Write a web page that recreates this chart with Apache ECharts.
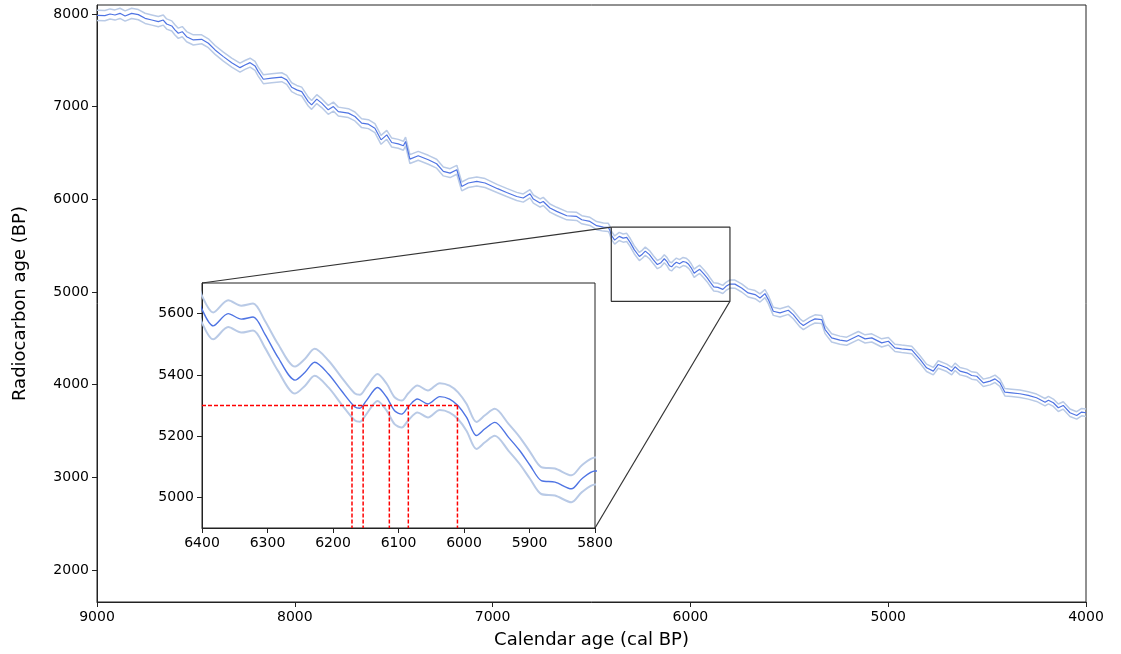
<!DOCTYPE html>
<html>
<head>
<meta charset="utf-8">
<script src="https://cdn.jsdelivr.net/npm/echarts@6/dist/echarts.min.js"></script>
<style>html,body{margin:0;padding:0;background:#fff}#c{width:1121px;height:654px}</style>
</head>
<body>
<div id="c"></div>
<script>
// Calendar ages (cal BP) and radiocarbon ages (BP) of the calibration curve mean
const calAge = [9000,8993,8960,8934,8909,8884,8858,8825,8791,8757,8723,8690,8665,8648,8622,8606,8589,8569,8547,8513,8471,8437,8403,8361,8319,8277,8252,8226,8201,8185,8159,8117,8066,8041,8016,7990,7965,7932,7915,7889,7864,7831,7805,7780,7729,7696,7662,7628,7595,7564,7535,7510,7477,7451,7440,7418,7376,7325,7283,7249,7215,7181,7156,7123,7080,7038,6975,6929,6878,6845,6811,6794,6760,6744,6710,6676,6625,6575,6549,6508,6474,6440,6415,6408,
6400,6383,6360,6340,6322,6304,6284,6258,6243,6228,6207,6187,6167,6159,6149,6132,6118,6106,6095,6085,6071,6055,6037,6022,6009,5996,5981,5968,5953,5932,5915,5899,5882,5861,5836,5820,5800,
5775,5741,5708,5673,5648,5623,5606,5581,5547,5505,5480,5446,5429,5395,5370,5336,5319,5286,5244,5210,5151,5117,5083,5033,4999,4966,4932,4881,4839,4806,4772,4747,4704,4679,4662,4637,4603,4578,4552,4519,4485,4460,4435,4410,4376,4334,4292,4250,4207,4190,4165,4140,4115,4081,4047,4022,4000];
const c14Age = [7985,7989,7982,8000,7989,8007,7978,8007,7993,7953,7935,7917,7935,7892,7871,7828,7792,7809,7755,7720,7727,7684,7612,7540,7475,7421,7450,7475,7440,7378,7296,7307,7318,7289,7210,7181,7163,7055,7019,7081,7038,6966,7001,6947,6930,6894,6822,6811,6768,6642,6696,6613,6599,6578,6624,6434,6470,6427,6384,6301,6283,6319,6139,6176,6193,6176,6115,6074,6031,6014,6060,6003,5960,5977,5906,5870,5823,5816,5780,5762,5716,5701,5697,5670,
5614,5560,5600,5582,5589,5533,5457,5383,5408,5441,5403,5348,5296,5291,5316,5359,5327,5283,5272,5296,5321,5305,5329,5321,5299,5261,5202,5224,5245,5196,5153,5104,5055,5050,5028,5061,5086,
5085,5044,4990,4972,4936,4983,4918,4792,4775,4803,4756,4667,4638,4684,4710,4703,4595,4505,4480,4469,4530,4494,4505,4451,4469,4397,4387,4375,4272,4182,4146,4218,4182,4146,4193,4146,4128,4099,4091,4020,4038,4063,4020,3919,3912,3902,3884,3859,3811,3833,3805,3751,3776,3697,3668,3704,3697];
// Half-width of the uncertainty band (step table: [from cal age downward, half-width])
const bandSteps = [[9000,55],[8500,48],[7000,44],[5000,40]];
// Axis ticks
const mainYTicks = [2000,3000,4000,5000,6000,7000,8000];
const insetYTicks = [5000,5200,5400,5600];
// Zoom window
const zoomX = [6400, 5800];
const zoomY = [4900, 5700];
// Measured radiocarbon age and its calendar intercepts
const measuredC14 = 5300;
const intercepts = [6171, 6154, 6114, 6085, 6010];

function halfWidth(t){
  let w = bandSteps[0][1];
  for (const s of bandSteps) { if (t <= s[0]) w = s[1]; }
  return w;
}
const meanData = calAge.map((t,i)=>[t, c14Age[i]]);
const upperData = calAge.map((t,i)=>[t, c14Age[i] + halfWidth(t)]);
const lowerData = calAge.map((t,i)=>[t, c14Age[i] - halfWidth(t)]);

const FONT = 'DejaVu Sans';
const txt = {color:'#000', fontFamily: FONT, fontSize: 14};
const nameTxt = {color:'#000', fontFamily: FONT, fontSize: 18};
const meanColor = '#4f74e3';
const bandColor = '#b9cae6';
const plain = v => String(v);

const chart = echarts.init(document.getElementById('c'), null, {renderer:'canvas'});

const redStyle = {color:'#ff0000', type:[4,2], width:1.5};
const redSegments = [[[zoomX[0], measuredC14],[intercepts[intercepts.length-1], measuredC14]]]
  .concat(intercepts.map(x=>[[x, measuredC14],[x, zoomY[0]]]));
const redSeries = redSegments.map(seg=>({
  type:'line', xAxisIndex:1, yAxisIndex:1, data:seg, showSymbol:false, silent:true, z:9,
  lineStyle:redStyle, itemStyle:{color:'#ff0000'}
}));

const option = {
  backgroundColor:'#fff',
  animation:false,
  grid:[
    {left:97, right:35, top:5, bottom:51, show:true, borderColor:'#222', borderWidth:1, backgroundColor:'#fff', z:0},
    {left:202, top:283, width:393, height:245, show:true, borderColor:'#222', borderWidth:1, backgroundColor:'#fff', z:5}
  ],
  xAxis:[
    {gridIndex:0, type:'value', inverse:true, min:4000, max:9000, interval:1000,
     name:'Calendar age (cal BP)', nameLocation:'middle', nameGap:29, nameTextStyle:nameTxt,
     axisLine:{show:true, lineStyle:{color:'#222', width:1}},
     axisTick:{show:true, length:5, lineStyle:{color:'#222'}},
     axisLabel:Object.assign({margin:8, formatter:plain}, txt),
     splitLine:{show:false}},
    {gridIndex:1, type:'value', inverse:true, min:zoomX[1], max:zoomX[0], interval:100, z:6,
     axisLine:{show:true, lineStyle:{color:'#222', width:1}},
     axisTick:{show:true, length:5, lineStyle:{color:'#222'}},
     axisLabel:Object.assign({margin:8, formatter:plain}, txt),
     splitLine:{show:false}}
  ],
  yAxis:[
    {gridIndex:0, type:'value', min:1655, max:8097,
     name:'Radiocarbon age (BP)', nameLocation:'middle', nameGap:68, nameTextStyle:nameTxt,
     axisLine:{show:true, lineStyle:{color:'#222', width:1}},
     axisTick:{show:true, length:5, lineStyle:{color:'#222'}, customValues: mainYTicks},
     axisLabel:Object.assign({margin:8, customValues: mainYTicks, formatter:plain}, txt),
     splitLine:{show:false}},
    {gridIndex:1, type:'value', min:zoomY[0], max:zoomY[1], z:6,
     axisLine:{show:true, lineStyle:{color:'#222', width:1}},
     axisTick:{show:true, length:5, lineStyle:{color:'#222'}, customValues: insetYTicks},
     axisLabel:Object.assign({margin:8, customValues: insetYTicks, formatter:plain}, txt),
     splitLine:{show:false}}
  ],
  series:[
    {type:'line', xAxisIndex:0, yAxisIndex:0, data:upperData, showSymbol:false, lineStyle:{color:bandColor, width:1.5}, z:2},
    {type:'line', xAxisIndex:0, yAxisIndex:0, data:lowerData, showSymbol:false, lineStyle:{color:bandColor, width:1.5}, z:2},
    {type:'line', xAxisIndex:0, yAxisIndex:0, data:meanData, showSymbol:false, lineStyle:{color:meanColor, width:1.2}, z:3},
    {type:'line', xAxisIndex:0, yAxisIndex:0, showSymbol:false, silent:true, z:4,
     data:[[zoomX[0],zoomY[1]],[zoomX[1],zoomY[1]],[zoomX[1],zoomY[0]],[zoomX[0],zoomY[0]],[zoomX[0],zoomY[1]]],
     lineStyle:{color:'#333', width:1.2}},
    {type:'line', xAxisIndex:1, yAxisIndex:1, data:upperData, showSymbol:false, smooth:0.3, lineStyle:{color:bandColor, width:2}, z:7},
    {type:'line', xAxisIndex:1, yAxisIndex:1, data:lowerData, showSymbol:false, smooth:0.3, lineStyle:{color:bandColor, width:2}, z:7},
    {type:'line', xAxisIndex:1, yAxisIndex:1, data:meanData, showSymbol:false, smooth:0.3, lineStyle:{color:meanColor, width:1.4}, z:8}
  ].concat(redSeries)
};
chart.setOption(option);

const p1 = chart.convertToPixel({gridIndex:0}, [zoomX[0], zoomY[1]]);
const q1 = chart.convertToPixel({gridIndex:1}, [zoomX[0], zoomY[1]]);
const p2 = chart.convertToPixel({gridIndex:0}, [zoomX[1], zoomY[0]]);
const q2 = chart.convertToPixel({gridIndex:1}, [zoomX[1], zoomY[0]]);
chart.setOption({graphic:[
  {type:'line', z:20, shape:{x1:p1[0], y1:p1[1], x2:q1[0], y2:q1[1]}, style:{stroke:'#333', lineWidth:1.2}},
  {type:'line', z:20, shape:{x1:p2[0], y1:p2[1], x2:q2[0], y2:q2[1]}, style:{stroke:'#333', lineWidth:1.2}}
]});
</script>
</body>
</html>
